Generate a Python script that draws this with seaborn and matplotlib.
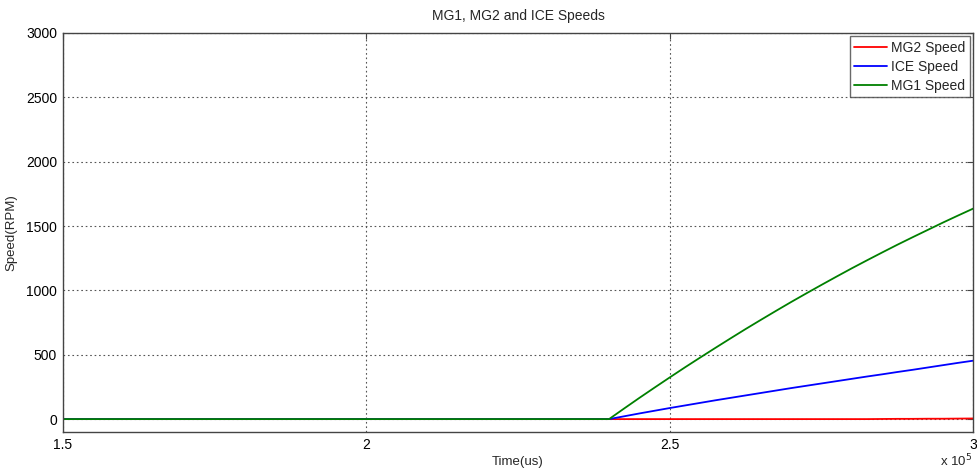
import matplotlib
matplotlib.use("Agg")
import matplotlib.pyplot as plt
import seaborn as sns
import pandas as pd
from matplotlib.ticker import FuncFormatter

# Simulation time stamps (microseconds)
time_us = [150000] + list(range(240000, 300001, 2500))

# Machine speeds (RPM)
mg2_speed = [0, 0, 0, 0, 0, 0, 0, 0, 0, 0, 0, 0, 0,
             0, 0, 0, 0, 0, 0, 1, 2, 2, 3, 3, 4, 5]
ice_speed = [0, 0, 22, 44, 65, 86, 106, 126, 146, 165, 184, 203, 222,
             241, 259, 277, 295, 313, 331, 348, 366, 383, 401, 419, 437, 454]
mg1_speed = [0, 0, 83, 165, 245, 324, 402, 478, 553, 627, 700, 771, 841,
             910, 977, 1043, 1108, 1172, 1234, 1295, 1355, 1413, 1470, 1527, 1582, 1636]

series_names = ["MG2 Speed", "ICE Speed", "MG1 Speed"]
series_colors = ["#ff0000", "#0000ff", "#008000"]

sns.set_style("white")
plt.rcParams["font.family"] = ["Liberation Sans", "DejaVu Sans"]

fig = plt.figure(figsize=(9.77, 4.70), dpi=100)
ax = fig.add_axes([0.0642, 0.0809, 0.932, 0.8489])

for name, values, color in zip(series_names, [mg2_speed, ice_speed, mg1_speed], series_colors):
    df = pd.DataFrame({"Time": time_us, "Speed": values})
    sns.lineplot(data=df, x="Time", y="Speed", ax=ax, color=color,
                 linewidth=1.3, label=name)

ax.set_xlim(150000, 300000)
ax.set_ylim(-100, 3000)
ax.set_xticks([150000, 200000, 250000, 300000])
ax.set_yticks([0, 500, 1000, 1500, 2000, 2500, 3000])
ax.xaxis.set_major_formatter(FuncFormatter(lambda v, p: f"{v / 1e5:g}"))
ax.yaxis.set_major_formatter(FuncFormatter(lambda v, p: f"{v:g}"))

ax.grid(True, linestyle=(0, (1.5, 2.5)), color="#555555", linewidth=0.8)
for spine in ax.spines.values():
    spine.set_color("#444444")
    spine.set_linewidth(1.0)
ax.tick_params(direction="in", length=4, color="#444444", labelsize=10,
               labelcolor="black", pad=4, top=True, right=True)

ax.set_title("MG1, MG2 and ICE Speeds", fontsize=10, pad=9)
ax.set_xlabel("Time(us)", fontsize=9.5, labelpad=3)
ax.set_ylabel("Speed(RPM)", fontsize=9.5, labelpad=6)
ax.text(0.999, -0.052, r"x 10$^5$", transform=ax.transAxes, ha="right",
        va="top", fontsize=9.5)

leg = ax.legend(loc="upper right", fontsize=10, frameon=True, fancybox=False,
                edgecolor="#444444", handlelength=2.4, handletextpad=0.3,
                labelspacing=0.38, borderpad=0.3, borderaxespad=0.25)
leg.get_frame().set_linewidth(1.0)

fig.savefig("out.png", dpi=100)
